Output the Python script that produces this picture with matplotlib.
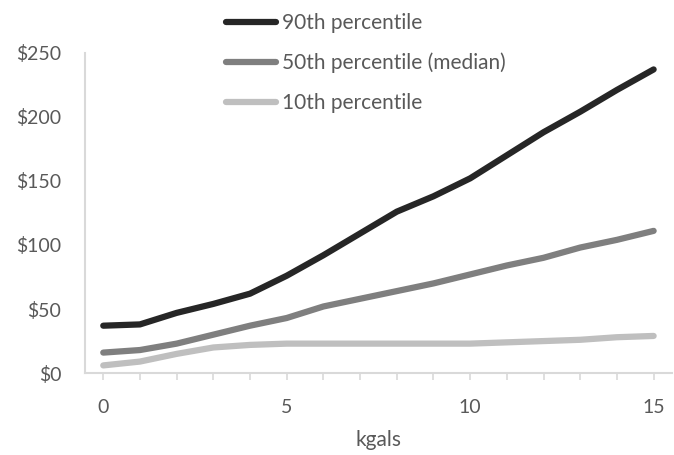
import numpy as np
import matplotlib.pyplot as plt

# data
kgals = list(range(16))
p90 = [37, 38, 47, 54, 62, 76, 92, 109, 126, 138, 152, 170, 188, 204, 221, 237]
p50 = [16, 18, 23, 30, 37, 43, 52, 58, 64, 70, 77, 84, 90, 98, 104, 111]
p10 = [6, 9, 15, 20, 22, 23, 23, 23, 23, 23, 23, 24, 25, 26, 28, 29]

series_names = ["90th percentile", "50th percentile (median)", "10th percentile"]
series_colors = ["#262626", "#7f7f7f", "#bfbfbf"]


def main():
    plt.rcParams['font.family'] = ['Lato', 'DejaVu Sans']
    txt = "#595959"

    fig = plt.figure(figsize=(6.74, 4.55), dpi=100)
    ax = fig.add_axes([0.126, 0.180, 0.871, 0.704])

    for vals, name, col in zip([p90, p50, p10], series_names, series_colors):
        ax.plot(kgals, vals, color=col, linewidth=4.5, label=name,
                solid_capstyle='round', solid_joinstyle='round')

    ax.set_xlim(-0.5, 15.5)
    ax.set_ylim(0, 250)
    ax.set_xticks(kgals)
    ax.set_xticklabels([str(k) if k % 5 == 0 else "" for k in kgals])
    ax.set_yticks([0, 50, 100, 150, 200, 250])
    ax.set_yticklabels(["$%d" % v for v in [0, 50, 100, 150, 200, 250]])

    for s in ["top", "right"]:
        ax.spines[s].set_visible(False)
    for s in ["left", "bottom"]:
        ax.spines[s].set_color("#d9d9d9")
        ax.spines[s].set_linewidth(1.5)

    ax.tick_params(axis='x', colors="#d9d9d9", labelcolor=txt, labelsize=14,
                   length=5, width=1.2, pad=14)
    ax.tick_params(axis='y', length=0, labelcolor=txt, labelsize=14, pad=17)
    ax.set_xlabel("kgals", color=txt, fontsize=15, labelpad=10)

    fig.legend(loc='upper left', bbox_to_anchor=(0.307, 1.013), frameon=False,
               fontsize=15, handlelength=2.4, handletextpad=0.3,
               labelspacing=0.95, labelcolor=txt)

    fig.savefig("out.png", dpi=100)


if __name__ == '__main__':
    main()
